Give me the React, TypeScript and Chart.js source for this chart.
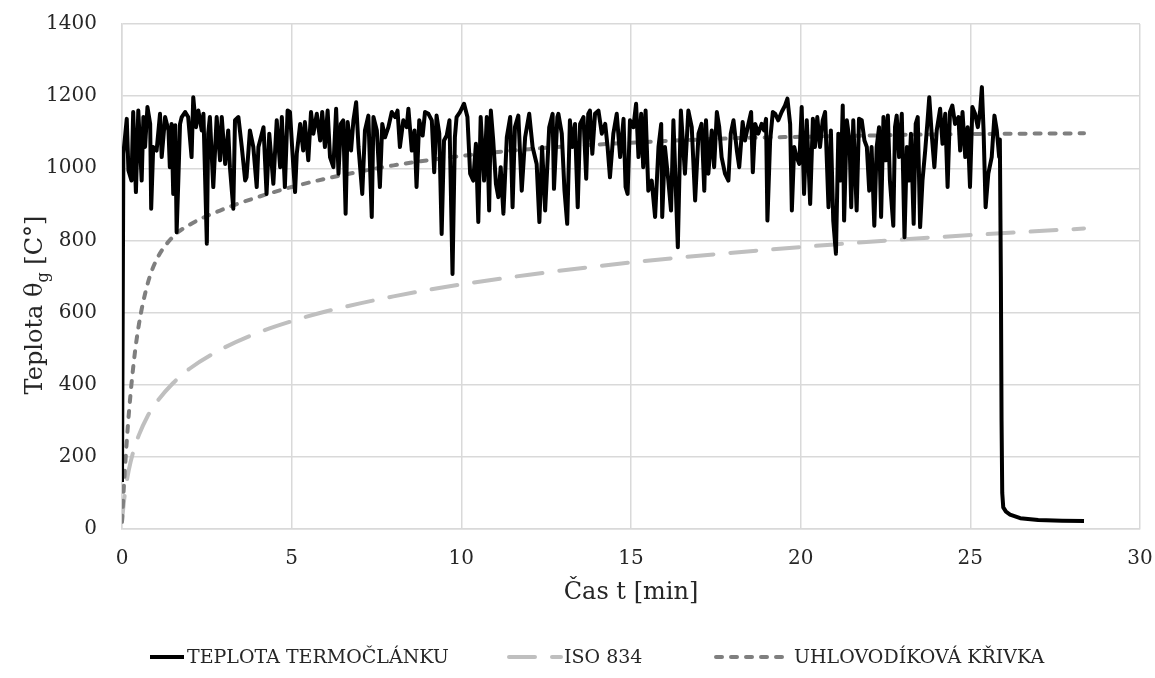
import React, { useEffect, useRef } from "react";
import { Chart, registerables } from "chart.js";

Chart.register(...registerables);

// ---------- data ----------
const seriesNames = ["TEPLOTA TERMOČLÁNKU", "ISO 834", "UHLOVODÍKOVÁ KŘIVKA"];
const xTitle = "Čas t [min]";
const yTitleMain = "Teplota θ";
const yTitleSub = "g";
const yTitleEnd = " [C°]";
const xTicks = [0, 5, 10, 15, 20, 25, 30];
const yTicks = [0, 200, 400, 600, 800, 1000, 1200, 1400];

// thermocouple (minutes)
const tcTime = [
  0, 0.04, 0.14, 0.19, 0.28, 0.33, 0.41, 0.48, 0.58, 0.63, 0.68, 0.75, 0.83, 0.86, 0.92, 1.02, 1.12, 1.17, 1.27, 1.37,
  1.41, 1.46, 1.51, 1.57, 1.61, 1.66, 1.71, 1.76, 1.86, 1.95, 2.05, 2.1, 2.18, 2.25, 2.35, 2.4, 2.5, 2.54, 2.59, 2.69,
  2.79, 2.89, 2.94, 3.04, 3.13, 3.18, 3.28, 3.33, 3.43, 3.53, 3.63, 3.67, 3.77, 3.87, 3.97, 4.02, 4.17, 4.26, 4.34,
  4.46, 4.56, 4.66, 4.71, 4.8, 4.88, 4.95, 5.05, 5.1, 5.15, 5.25, 5.34, 5.39, 5.49, 5.57, 5.64, 5.74, 5.84, 5.9, 5.98,
  6.06, 6.13, 6.23, 6.31, 6.38, 6.45, 6.52, 6.59, 6.65, 6.75, 6.82, 6.9, 6.97, 7.08, 7.16, 7.26, 7.36, 7.41, 7.51, 7.6,
  7.67, 7.75, 7.85, 7.95, 8.05, 8.12, 8.19, 8.29, 8.39, 8.44, 8.54, 8.62,
  8.68, 8.76, 8.86, 8.93, 9.03, 9.13, 9.2, 9.27, 9.35, 9.42, 9.49, 9.57, 9.65, 9.74, 9.81, 9.86, 9.96, 10.08, 10.18,
  10.26, 10.35, 10.43, 10.5, 10.57, 10.67, 10.75, 10.82, 10.87, 10.94, 11.02, 11.09, 11.16, 11.24, 11.34, 11.44, 11.51,
  11.58, 11.68, 11.78, 11.88, 12.0, 12.1, 12.22, 12.3, 12.38, 12.47, 12.59, 12.69, 12.73, 12.83,
  12.86, 12.96, 13.04, 13.12, 13.2, 13.27, 13.35, 13.43, 13.5, 13.6, 13.68, 13.74, 13.79, 13.86, 13.94, 14.04, 14.14,
  14.24, 14.31, 14.38, 14.48, 14.58, 14.68, 14.78, 14.84, 14.9, 14.97, 15.07, 15.15, 15.22, 15.3, 15.36, 15.43, 15.51,
  15.61, 15.71, 15.81, 15.89, 15.92, 16.0, 16.1, 16.18, 16.25, 16.38, 16.47, 16.59, 16.69, 16.79, 16.89, 16.99, 17.08, 17.16,
  17.21, 17.28, 17.38, 17.45, 17.53, 17.6, 17.67, 17.77, 17.87, 17.94, 18.02, 18.12, 18.19, 18.29, 18.36, 18.46, 18.54,
  18.59, 18.66, 18.75, 18.85, 18.92, 18.98, 19.02, 19.1, 19.18, 19.25, 19.34, 19.44, 19.54, 19.61, 19.69, 19.74, 19.81,
  19.88, 19.96, 20.03, 20.1, 20.18, 20.28, 20.36, 20.42, 20.49, 20.57, 20.65, 20.72, 20.82, 20.89, 20.96, 21.04, 21.11,
  21.18, 21.24, 21.28, 21.36, 21.44,
  21.49, 21.55, 21.65, 21.72, 21.8, 21.88, 21.95, 22.02, 22.09, 22.17, 22.24, 22.31, 22.37, 22.44, 22.51, 22.57, 22.63,
  22.73, 22.78, 22.83, 22.9, 22.98, 23.06, 23.13, 23.19, 23.25, 23.33, 23.39, 23.45, 23.52, 23.59, 23.67, 23.74, 23.79,
  23.86, 23.94, 24.01, 24.11, 24.18, 24.26, 24.33, 24.4, 24.47, 24.55, 24.65, 24.7, 24.77, 24.85, 24.92, 24.99, 25.06,
  25.14, 25.22, 25.29, 25.34, 25.39, 25.45, 25.53, 25.63, 25.71, 25.78, 25.85,
  25.87, 25.9, 25.92, 25.94, 25.97, 26.05, 26.17, 26.47, 27.0, 27.7, 28.35,
];
const tcTemp = [
  130, 1040, 1137, 994, 966, 1156, 934, 1160, 966, 1142, 1059, 1170, 1123, 888, 1059, 1049, 1151, 1031, 1142, 1105,
  1003, 1123, 929, 1119, 823, 966, 1123, 1142, 1156, 1142, 1031, 1197, 1114, 1160, 1105, 1151, 791, 1096, 1142, 948,
  1142, 1022, 1142, 1012, 1105, 1003, 888, 1133, 1142, 1059, 966, 975, 1105, 1059, 948, 1059, 1114, 929, 1096,
  957, 1133, 1003, 1142, 948, 1160, 1156, 1003, 934, 1040, 1123, 1049, 1128, 1022, 1156, 1096, 1151, 1077, 1156, 1059,
  1160, 1031, 1003, 1165, 985, 1123, 1133, 874, 1128, 1049, 1133, 1183, 1059, 929, 1105, 1146, 865, 1142, 1105, 948,
  1123, 1086, 1114, 1156, 1142, 1160, 1059, 1133, 1114, 1165, 1049, 1105,
  948, 1133, 1091, 1156, 1151, 1133, 989, 1146, 1096, 818, 1077, 1091, 1133, 707, 1086, 1142, 1156, 1179, 1142,
  985, 966, 1068, 851, 1142, 966, 1142, 883, 1160, 1077, 957, 920, 1003, 874, 1086, 1142, 892,
  1114, 1146, 938, 1086, 1151, 1059, 1012, 851, 1059, 883, 1114, 1151, 943, 1142,
  1151, 1096, 938, 846, 1133, 1059, 1123, 892, 1123, 1142, 971, 1151, 1160, 1040, 1151, 1160, 1096,
  1123, 1059, 975, 1096, 1151, 1031, 1137, 948, 929, 1133, 1114, 1179, 1031, 1151, 1003, 1160, 938,
  966, 865, 1059, 1123, 865, 1059, 966, 883, 1133, 781, 1160, 985, 1160, 1114, 911, 1096, 1123, 938,
  1133, 985, 1105, 1003, 1156, 1114, 1031, 985, 966, 1096, 1133, 1049, 1003, 1128, 1077, 1123, 1156,
  989, 1123, 1096, 1123, 1105, 1137, 855, 1077, 1156, 1151, 1133, 1156, 1174, 1193, 1123, 883, 1059,
  1031, 1012, 1170, 929, 1133, 901, 1137, 1059, 1142, 1059, 1133, 1156, 892, 1105, 855, 763, 1096,
  966, 1174, 855, 1133, 1077,
  892, 1133, 883, 1137, 1133, 1077, 1059, 938, 1059, 841, 1059, 1114, 865, 1142, 1022, 1146, 966,
  841, 1114, 1146, 1031, 1151, 809, 1059, 966, 1096, 846, 1123, 1142, 837, 966, 1049, 1133, 1197,
  1096, 1003, 1105, 1165, 1068, 1151, 948, 1156, 1174, 1123, 1142, 1049, 1156, 1031, 1114, 948, 1170,
  1151, 1114, 1160, 1225, 1105, 892, 985, 1031, 1146, 1105, 1031,
  1080, 700, 300, 100, 60, 48, 40, 30, 25, 23, 22,
];

// ISO 834 standard curve
const isoTime = [0, 0.05, 0.1, 0.2, 0.35, 0.5, 0.75, 1, 1.5, 2, 3, 4, 5, 6, 8, 10, 12, 15, 18, 21, 24, 28.35];
const isoTemp = [20, 70, 108, 163, 220, 261, 312, 349, 404, 445, 502, 544, 576, 603, 645, 678, 705, 739, 766, 789, 809, 833];

// hydrocarbon curve
const hcTime = [0, 0.05, 0.1, 0.2, 0.35, 0.5, 0.75, 1, 1.5, 2, 3, 4, 5, 6, 8, 10, 12, 15, 18, 21, 24, 28.35];
const hcTemp = [20, 109, 187, 318, 465, 568, 678, 743, 810, 844, 887, 920, 948, 971, 1008, 1034, 1053, 1071, 1083, 1089, 1094, 1097];

const seriesColors = ["#000000", "#bfbfbf", "#7f7f7f"];
const seriesWidths = [4, 4, 4];
const seriesDashes: number[][] = [[], [26, 17], [6, 9]];

const toXY = (xs: number[], ys: number[]) => xs.map((x, i) => ({ x, y: ys[i] }));

const FONT = "'DejaVu Serif', 'Liberation Serif', serif";
const TEXT_COLOR = "#262626";

const titlesAndLegend = {
  id: "titlesAndLegend",
  afterDraw(chart: any) {
    const ctx = chart.ctx as CanvasRenderingContext2D;
    const area = chart.chartArea;
    ctx.save();
    ctx.fillStyle = TEXT_COLOR;

    // Y axis title with subscript
    const mainFont = `24px ${FONT}`;
    const subFont = `16px ${FONT}`;
    ctx.font = mainFont;
    const w1 = ctx.measureText(yTitleMain).width;
    const w3 = ctx.measureText(yTitleEnd).width;
    ctx.font = subFont;
    const w2 = ctx.measureText(yTitleSub).width;
    const total = w1 + w2 + w3;
    ctx.save();
    ctx.translate(42, 305);
    ctx.rotate(-Math.PI / 2);
    ctx.textBaseline = "alphabetic";
    ctx.textAlign = "left";
    let x0 = -total / 2;
    ctx.font = mainFont;
    ctx.fillText(yTitleMain, x0, 0);
    x0 += w1;
    ctx.font = subFont;
    ctx.fillText(yTitleSub, x0, 6);
    x0 += w2;
    ctx.font = mainFont;
    ctx.fillText(yTitleEnd, x0, 0);
    ctx.restore();

    // X axis title
    ctx.font = `24px ${FONT}`;
    ctx.textAlign = "center";
    ctx.textBaseline = "alphabetic";
    ctx.fillText(xTitle, (area.left + area.right) / 2, 599);

    // Legend
    const legendY = 657;
    const items = [
      { lineX0: 150, lineX1: 184, textX: 187 },
      { lineX0: 509, lineX1: 561, textX: 564 },
      { lineX0: 716, lineX1: 791, textX: 794 },
    ];
    ctx.font = `19px ${FONT}`;
    ctx.textAlign = "left";
    ctx.textBaseline = "middle";
    items.forEach((it, i) => {
      ctx.save();
      ctx.strokeStyle = seriesColors[i];
      ctx.lineWidth = seriesWidths[i];
      ctx.lineCap = i === 0 ? "butt" : "round";
      ctx.setLineDash(seriesDashes[i]);
      ctx.beginPath();
      ctx.moveTo(it.lineX0, legendY);
      ctx.lineTo(it.lineX1, legendY);
      ctx.stroke();
      ctx.restore();
      ctx.fillText(seriesNames[i], it.textX, legendY + 1);
    });
    ctx.restore();
  },
};

export default function App() {
  const canvasRef = useRef<HTMLCanvasElement | null>(null);

  useEffect(() => {
    document.body.style.margin = "0";
    const canvas = canvasRef.current;
    if (!canvas) return;
    const chart = new Chart(canvas, {
      type: "line",
      data: {
        datasets: [
          {
            label: seriesNames[0],
            data: toXY(tcTime, tcTemp),
            borderColor: seriesColors[0],
            borderWidth: seriesWidths[0],
            borderJoinStyle: "round",
            pointRadius: 0,
            tension: 0,
            order: 0,
          },
          {
            label: seriesNames[1],
            data: toXY(isoTime, isoTemp),
            borderColor: seriesColors[1],
            borderWidth: seriesWidths[1],
            borderDash: seriesDashes[1],
            borderCapStyle: "round",
            pointRadius: 0,
            cubicInterpolationMode: "monotone",
            order: 2,
          },
          {
            label: seriesNames[2],
            data: toXY(hcTime, hcTemp),
            borderColor: seriesColors[2],
            borderWidth: seriesWidths[2],
            borderDash: seriesDashes[2],
            borderCapStyle: "round",
            pointRadius: 0,
            cubicInterpolationMode: "monotone",
            order: 1,
          },
        ],
      } as any,
      options: {
        animation: false,
        responsive: false,
        maintainAspectRatio: false,
        layout: { padding: { left: 0, right: 15, top: 24, bottom: 0 } },
        plugins: { legend: { display: false }, tooltip: { enabled: false }, title: { display: false } },
        scales: {
          x: {
            type: "linear",
            min: 0,
            max: 30,
            afterBuildTicks: (s: any) => {
              s.ticks = xTicks.map((v) => ({ value: v }));
            },
            afterFit: (s: any) => {
              s.height = 149;
              s.paddingLeft = 0;
              s.paddingRight = 0;
            },
            grid: { color: "#d9d9d9", lineWidth: 1.5, drawTicks: false },
            border: { color: "#d9d9d9", width: 1.5 },
            ticks: {
              padding: 18,
              color: TEXT_COLOR,
              font: { family: FONT, size: 20 },
              maxRotation: 0,
              callback: (v: any) => String(v),
            },
          },
          y: {
            type: "linear",
            min: 0,
            max: 1400,
            afterBuildTicks: (s: any) => {
              s.ticks = yTicks.map((v) => ({ value: v }));
            },
            afterFit: (s: any) => {
              s.width = 122;
              s.paddingTop = 0;
              s.paddingBottom = 0;
            },
            grid: { color: "#d9d9d9", lineWidth: 1.5, drawTicks: false },
            border: { color: "#d9d9d9", width: 1.5 },
            ticks: {
              padding: 25,
              color: TEXT_COLOR,
              font: { family: FONT, size: 20 },
              callback: (v: any) => String(v),
            },
          },
        },
      } as any,
      plugins: [titlesAndLegend],
    });
    return () => chart.destroy();
  }, []);

  return (
    <div style={{ width: 1155, height: 678 }}>
      <canvas ref={canvasRef} width={1155} height={678} style={{ display: "block" }} />
    </div>
  );
}
